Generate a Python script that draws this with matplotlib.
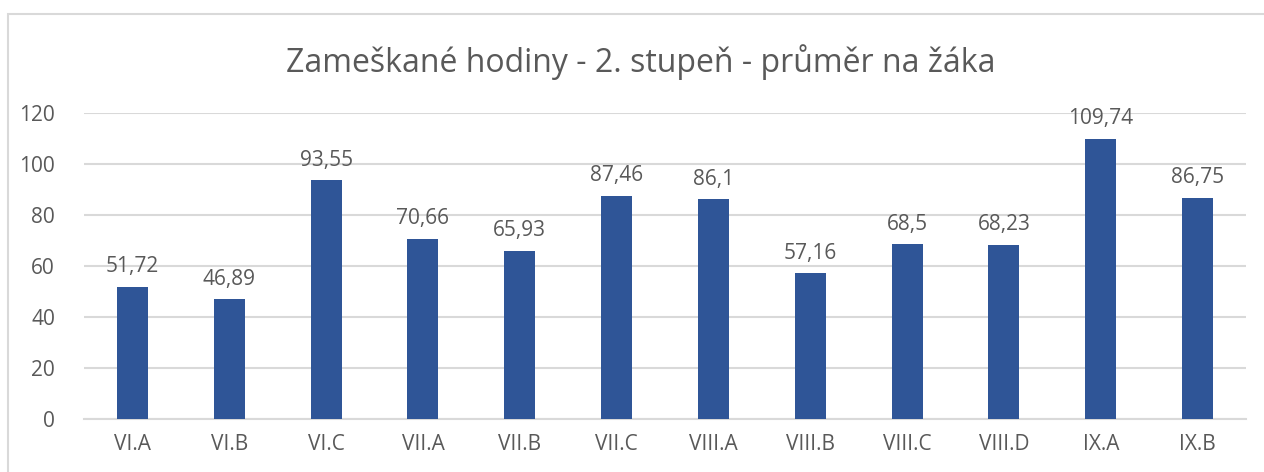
import numpy as np
import matplotlib.pyplot as plt
from matplotlib.patches import Rectangle

tridy = ['VI.A', 'VI.B', 'VI.C', 'VII.A', 'VII.B', 'VII.C',
         'VIII.A', 'VIII.B', 'VIII.C', 'VIII.D', 'IX.A', 'IX.B']
hodiny = [51.72, 46.89, 93.55, 70.66, 65.93, 87.46,
          86.1, 57.16, 68.5, 68.23, 109.74, 86.75]
popisky = ['51,72', '46,89', '93,55', '70,66', '65,93', '87,46',
           '86,1', '57,16', '68,5', '68,23', '109,74', '86,75']

plt.rcParams['font.family'] = ['Open Sans', 'DejaVu Sans']
seda = '#595959'

fig = plt.figure(figsize=(12.64, 4.72), dpi=100)
ax = fig.add_axes([0.0665, 0.1123, 0.9193, 0.6483])

x = np.arange(len(tridy))
ax.bar(x, hodiny, width=0.32, color='#2F5597', zorder=3)

for xi, v, t in zip(x, hodiny, popisky):
    ax.annotate(t, (xi, v), xytext=(0, 7), textcoords='offset points',
                ha='center', va='bottom', fontsize=15, color=seda)

ax.set_xlim(-0.5, len(tridy) - 0.5)
ax.set_ylim(0, 120)
ax.set_yticks(range(0, 121, 20))
ax.set_xticks(x)
ax.set_xticklabels(tridy)
ax.grid(axis='y', color='#D9D9D9', linewidth=1.5, zorder=0)
for s in ['top', 'right', 'left']:
    ax.spines[s].set_visible(False)
ax.spines['bottom'].set_color('#D9D9D9')
ax.spines['bottom'].set_linewidth(1.5)
ax.tick_params(axis='both', length=0, labelsize=15, labelcolor=seda)
ax.tick_params(axis='y', pad=21)
ax.tick_params(axis='x', pad=11)

fig.text(0.507, 0.868, 'Zameškané hodiny - 2. stupeň - průměr na žáka',
         ha='center', va='center', fontsize=23, color=seda)

# chart frame (left and top edges visible)
fig.patches.append(Rectangle((8 / 1264, -0.05), 1.1, 1 - 14 / 472 + 0.05,
                             transform=fig.transFigure, fill=False,
                             edgecolor='#D9D9D9', linewidth=1.5))

fig.savefig('out.png', dpi=100)
